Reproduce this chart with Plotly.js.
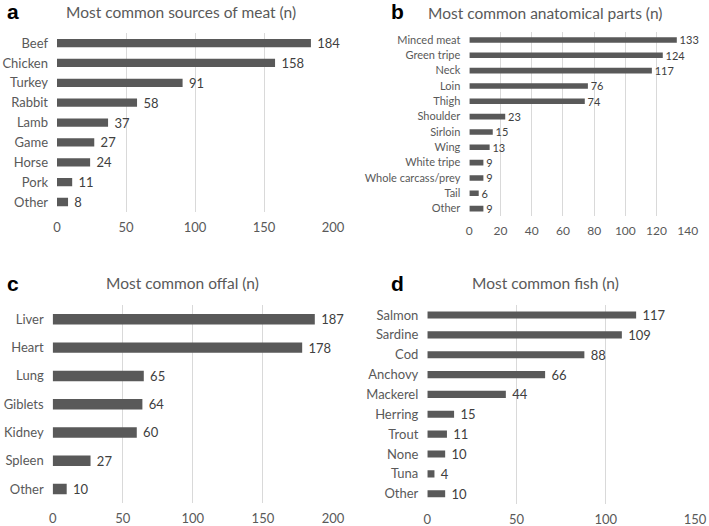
<!DOCTYPE html>
<html>
<head>
<meta charset="utf-8">
<script src="https://cdn.plot.ly/plotly-3.0.1.min.js"></script>
<style>
  html, body { margin: 0; padding: 0; background: #fff; }
  #chart { width: 709px; height: 526px; }
</style>
</head>
<body>
<div id="chart"></div>
<script>
// ---- data ----
const meatLabels = ["Beef", "Chicken", "Turkey", "Rabbit", "Lamb", "Game", "Horse", "Pork", "Other"];
const meatValues = [184, 158, 91, 58, 37, 27, 24, 11, 8];

const partLabels = ["Minced meat", "Green tripe", "Neck", "Loin", "Thigh", "Shoulder", "Sirloin", "Wing",
  "White tripe", "Whole carcass/prey", "Tail", "Other"];
const partValues = [133, 124, 117, 76, 74, 23, 15, 13, 9, 9, 6, 9];

const offalLabels = ["Liver", "Heart", "Lung", "Giblets", "Kidney", "Spleen", "Other"];
const offalValues = [187, 178, 65, 64, 60, 27, 10];

const fishLabels = ["Salmon", "Sardine", "Cod", "Anchovy", "Mackerel", "Herring", "Trout", "None", "Tuna", "Other"];
const fishValues = [117, 109, 88, 66, 44, 15, 11, 10, 4, 10];

const panelTitles = ["Most common sources of meat (n)", "Most common anatomical parts (n)",
  "Most common offal (n)", "Most common fish (n)"];
const panelLetters = ["a", "b", "c", "d"];

const FONT = "Lato, 'Open Sans', sans-serif";
const BAR = "#595959";

function barTrace(labels, values, ax, fontSize, width) {
  return {
    type: "bar",
    orientation: "h",
    y: labels,
    x: values,
    xaxis: "x" + ax,
    yaxis: "y" + ax,
    marker: { color: BAR },
    width: width,
    // nbsp gives the little gap after the bar end
    text: values.map((v) => "\u00a0" + v),
    textposition: "outside",
    constraintext: "none",
    cliponaxis: false,
    textfont: { family: FONT, size: fontSize, color: "#404040" },
    hoverinfo: "skip"
  };
}

const data = [
  barTrace(meatLabels, meatValues, "", 13, 0.42),
  barTrace(partLabels, partValues, "2", 11, 0.36),
  barTrace(offalLabels, offalValues, "3", 13, 0.37),
  barTrace(fishLabels, fishValues, "4", 13, 0.36)
];

function xAx(domain, range, dtick, anchor, size) {
  return {
    domain: domain, range: range, dtick: dtick, anchor: anchor,
    showgrid: true, gridcolor: "#d9d9d9", gridwidth: 1,
    zeroline: false, showline: false, ticks: "",
    ticklabelstandoff: 6,
    tickfont: { family: FONT, size: size, color: "#595959" },
    fixedrange: true
  };
}
function yAx(domain, anchor, size) {
  return {
    domain: domain, anchor: anchor, autorange: "reversed",
    showgrid: false, zeroline: false, showline: false, ticks: "",
    ticklabelstandoff: 8,
    tickfont: { family: FONT, size: size, color: "#595959" },
    fixedrange: true
  };
}

const titlePos = [[181, 12], [545, 13], [182, 283], [545, 283]];
const letterPos = [[13, 12], [397, 12], [13, 283], [397, 283]];
const annotations = [];
panelTitles.forEach((t, i) => {
  annotations.push({
    text: t, xref: "paper", yref: "paper",
    x: titlePos[i][0] / 709, y: 1 - titlePos[i][1] / 526,
    xanchor: "center", yanchor: "middle", showarrow: false,
    font: { family: FONT, size: 15.5, color: "#595959" }
  });
  annotations.push({
    text: "<b>" + panelLetters[i] + "</b>", xref: "paper", yref: "paper",
    x: letterPos[i][0] / 709, y: 1 - letterPos[i][1] / 526,
    xanchor: "center", yanchor: "middle", showarrow: false,
    font: { family: "Liberation Sans, Arial, sans-serif", size: 21, color: "#000" }
  });
});

const layout = {
  width: 709, height: 526,
  margin: { l: 0, r: 0, t: 0, b: 0 },
  paper_bgcolor: "#fff", plot_bgcolor: "#fff",
  showlegend: false,
  xaxis: xAx([0.0804, 0.4697], [0, 200], 50, "y", 13),
  yaxis: yAx([0.597, 0.937], "x", 13),
  xaxis2: xAx([0.662, 0.970], [0, 140], 20, "y2", 12),
  yaxis2: yAx([0.5888, 0.9386], "x2", 11),
  xaxis3: xAx([0.0743, 0.4697], [0, 200], 50, "y3", 13),
  yaxis3: yAx([0.0433, 0.4198], "x3", 13),
  xaxis4: xAx([0.6027, 0.9803], [0, 150], 50, "y4", 13),
  yaxis4: yAx([0.0425, 0.420], "x4", 13),
  annotations: annotations
};

Plotly.newPlot("chart", data, layout, { displayModeBar: false, staticPlot: true });
</script>
</body>
</html>
